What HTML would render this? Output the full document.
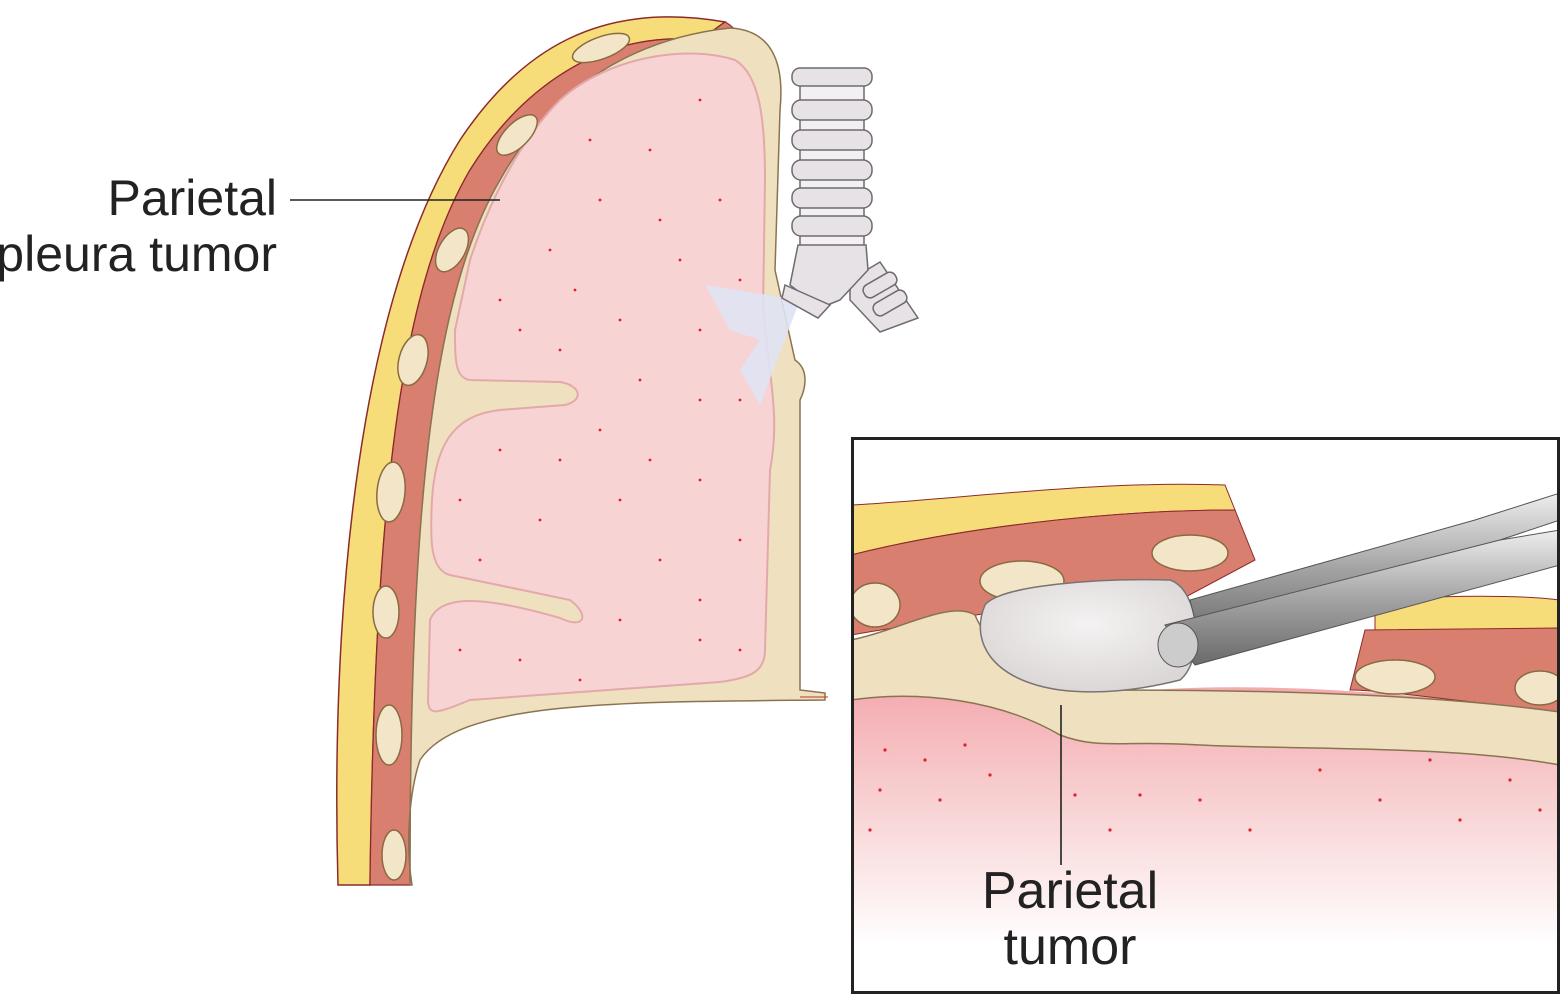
<!DOCTYPE html>
<html><head><meta charset="utf-8"><style>
html,body{margin:0;padding:0;background:#fff;width:1563px;height:997px;overflow:hidden}
svg{display:block}
text{font-family:"Liberation Sans",sans-serif;fill:#222}
</style></head><body>
<svg width="1563" height="997" viewBox="0 0 1563 997" xmlns="http://www.w3.org/2000/svg">
<defs>
<linearGradient id="lg" x1="0" y1="0" x2="0" y2="1">
<stop offset="0" stop-color="#f3a7ad"/><stop offset="0.4" stop-color="#f8d2d3"/><stop offset="0.85" stop-color="#fff"/></linearGradient>
<linearGradient id="rod" x1="0" y1="0" x2="0" y2="1"><stop offset="0" stop-color="#eee"/><stop offset="0.5" stop-color="#a5a5a5"/><stop offset="1" stop-color="#6a6a6a"/></linearGradient>
<radialGradient id="tum" cx="0.5" cy="0.4" r="0.6"><stop offset="0" stop-color="#f4f2f2"/><stop offset="1" stop-color="#dcd7d7"/></radialGradient>
</defs>
<path d="M338,885 C330,600 360,300 460,140 C520,50 600,0 725,22 L700,40 C600,30 520,90 470,170 C400,290 375,500 370,885 Z" fill="#f6dd7a" stroke="#8c2a2a" stroke-width="1.5"/>
<path d="M370,885 C375,500 400,290 470,170 C520,90 600,30 700,40 L725,22 C740,30 740,40 730,48 C620,40 545,100 500,180 C430,300 410,520 410,885 Z" fill="#d97f6f" stroke="#8c2a2a" stroke-width="1.2"/>
<path d="M410,885 C410,520 430,300 500,180 C545,100 620,40 730,28 C770,30 785,60 780,110 L775,270 L795,360 C810,370 805,390 800,400 L800,690 L825,693 L825,700 C620,702 460,700 420,760 C410,790 405,840 412,885 Z" fill="#efe0c0" stroke="#8a7450" stroke-width="1.5"/>
<path d="M470,260 C490,200 520,140 560,100 C610,55 690,45 735,60 C760,75 765,120 765,180 L763,310 C770,380 780,420 770,470 L765,650 C765,672 750,678 720,682 L470,700 C440,712 428,718 428,700 L430,620 C440,595 480,595 560,618 C585,630 590,615 570,600 L450,575 C430,570 430,540 432,500 C435,450 450,415 500,410 L565,405 C585,400 580,385 560,382 L470,380 C455,378 455,360 455,330 Z" fill="#f8d3d4" stroke="#e3a9aa" stroke-width="2"/>
<g fill="#e0202a">
<circle cx="500" cy="300" r="1.4"/><circle cx="550" cy="250" r="1.4"/><circle cx="600" cy="200" r="1.4"/><circle cx="650" cy="150" r="1.4"/><circle cx="700" cy="100" r="1.4"/><circle cx="720" cy="200" r="1.4"/><circle cx="680" cy="260" r="1.4"/><circle cx="620" cy="320" r="1.4"/><circle cx="560" cy="350" r="1.4"/><circle cx="520" cy="330" r="1.4"/><circle cx="700" cy="330" r="1.4"/><circle cx="740" cy="280" r="1.4"/><circle cx="640" cy="380" r="1.4"/><circle cx="700" cy="400" r="1.4"/><circle cx="600" cy="430" r="1.4"/><circle cx="500" cy="450" r="1.4"/><circle cx="460" cy="500" r="1.4"/><circle cx="540" cy="520" r="1.4"/><circle cx="620" cy="500" r="1.4"/><circle cx="700" cy="480" r="1.4"/><circle cx="740" cy="540" r="1.4"/><circle cx="660" cy="560" r="1.4"/><circle cx="620" cy="620" r="1.4"/><circle cx="700" cy="640" r="1.4"/><circle cx="520" cy="660" r="1.4"/><circle cx="460" cy="650" r="1.4"/><circle cx="580" cy="680" r="1.4"/><circle cx="740" cy="650" r="1.4"/><circle cx="590" cy="140" r="1.4"/><circle cx="660" cy="220" r="1.4"/><circle cx="575" cy="290" r="1.4"/><circle cx="740" cy="400" r="1.4"/><circle cx="480" cy="560" r="1.4"/><circle cx="560" cy="460" r="1.4"/><circle cx="650" cy="460" r="1.4"/><circle cx="700" cy="600" r="1.4"/>
</g>
<g fill="#f3e6c8" stroke="#8a6a40" stroke-width="1.5">
<ellipse cx="601" cy="48" rx="30" ry="11" transform="rotate(-20 601 48)"/>
<ellipse cx="517" cy="135" rx="26" ry="12" transform="rotate(-45 517 135)"/>
<ellipse cx="452" cy="250" rx="24" ry="13" transform="rotate(-60 452 250)"/>
<ellipse cx="413" cy="360" rx="26" ry="14" transform="rotate(-75 413 360)"/>
<ellipse cx="391" cy="492" rx="30" ry="14" transform="rotate(-85 391 492)"/>
<ellipse cx="386" cy="612" rx="26" ry="13" transform="rotate(-90 386 612)"/>
<ellipse cx="389" cy="735" rx="30" ry="13" transform="rotate(-90 389 735)"/>
<ellipse cx="394" cy="855" rx="25" ry="12" transform="rotate(-90 394 855)"/>
</g>
<path d="M705,285 L800,300 L760,405 L740,370 L760,340 L730,330 Z" fill="#dfe3f3" opacity="0.9"/>
<g fill="#e6e2e6" stroke="#6f6a70" stroke-width="1.5">
<rect x="800" y="75" width="64" height="180" fill="#f2f0f2"/>
<path d="M850,280 L880,262 L918,318 L880,332 L850,300 Z"/>
<path d="M798,245 L866,245 L868,270 L840,300 L820,308 L790,285 Z"/>
<rect x="792" y="68" width="80" height="18" rx="8"/>
<rect x="792" y="100" width="80" height="20" rx="9"/>
<rect x="792" y="130" width="80" height="20" rx="9"/>
<rect x="792" y="160" width="80" height="20" rx="9"/>
<rect x="792" y="188" width="80" height="20" rx="9"/>
<rect x="792" y="216" width="80" height="20" rx="9"/>
<rect x="862" y="278" width="36" height="14" rx="6" transform="rotate(-30 880 285)"/>
<rect x="872" y="296" width="36" height="14" rx="6" transform="rotate(-30 890 303)"/>
<path d="M785,285 L830,305 L818,318 L782,298 Z"/>
</g>
<path d="M828,697 L800,697" stroke="#c0392b" stroke-width="1"/>
<line x1="290" y1="200" x2="500" y2="200" stroke="#222" stroke-width="1.6"/>
<text x="277" y="215" font-size="50" text-anchor="end">Parietal</text>
<text x="277" y="271" font-size="50" text-anchor="end">pleura tumor</text>
<svg x="851" y="437" width="709" height="557" viewBox="851 437 709 557">
<rect x="851" y="437" width="709" height="557" fill="#fff"/>
<path d="M851,690 C950,660 1050,700 1150,690 C1300,680 1450,700 1560,710 L1560,994 L851,994 Z" fill="url(#lg)"/>
<path d="M851,505 C950,500 1100,480 1225,485 L1235,510 C1100,510 950,530 851,555 Z" fill="#f6dd7a" stroke="#8c2a2a"/>
<path d="M851,555 C950,530 1100,510 1235,510 L1255,560 L1180,600 C1100,595 1000,610 851,635 Z" fill="#d97f6f" stroke="#8c2a2a"/>
<path d="M1375,600 C1450,595 1520,595 1560,600 L1560,630 L1375,630 Z" fill="#f6dd7a" stroke="#8c2a2a"/>
<path d="M1365,630 L1560,628 L1560,715 L1500,705 C1450,700 1380,690 1350,690 Z" fill="#d97f6f" stroke="#8c2a2a"/>
<path d="M851,640 C900,630 950,600 975,615 C990,650 1030,690 1080,690 C1200,690 1400,690 1560,712 L1560,765 C1450,745 1300,750 1200,745 C1120,740 1100,750 1060,735 C1000,700 920,690 851,700 Z" fill="#efe0c0" stroke="#8a7450" stroke-width="1.5"/>
<g fill="#f3e6c8" stroke="#8a6a40" stroke-width="1.5">
<ellipse cx="1022" cy="581" rx="42" ry="20"/>
<ellipse cx="1190" cy="553" rx="38" ry="18"/>
<ellipse cx="1395" cy="677" rx="40" ry="17"/>
<ellipse cx="1540" cy="688" rx="25" ry="17"/>
<ellipse cx="875" cy="605" rx="25" ry="22"/>
</g>
<path d="M985,605 C1000,585 1100,578 1170,580 C1200,590 1205,660 1180,680 C1140,690 1100,695 1060,690 C990,680 970,640 985,605 Z" fill="url(#tum)" stroke="#7a7373" stroke-width="1.5"/>
<path d="M1190,600 L1475,520 L1560,493 L1560,520 L1200,640 Z" fill="url(#rod)" stroke="#555"/>
<path d="M1165,625 L1500,540 L1560,530 L1560,565 L1195,665 Z" fill="url(#rod)" stroke="#555"/>
<ellipse cx="1178" cy="645" rx="20" ry="22" fill="#ccc" stroke="#555"/>
<g fill="#e0202a">
<circle cx="885" cy="750" r="1.6"/><circle cx="925" cy="760" r="1.6"/><circle cx="965" cy="745" r="1.6"/><circle cx="990" cy="775" r="1.6"/><circle cx="880" cy="790" r="1.6"/><circle cx="940" cy="800" r="1.6"/><circle cx="1075" cy="795" r="1.6"/><circle cx="1140" cy="795" r="1.6"/><circle cx="1200" cy="800" r="1.6"/><circle cx="1320" cy="770" r="1.6"/><circle cx="1430" cy="760" r="1.6"/><circle cx="1510" cy="780" r="1.6"/><circle cx="1380" cy="800" r="1.6"/><circle cx="1250" cy="830" r="1.6"/><circle cx="1460" cy="820" r="1.6"/><circle cx="1540" cy="810" r="1.6"/><circle cx="870" cy="830" r="1.6"/><circle cx="1110" cy="830" r="1.6"/>
</g>
<line x1="1061" y1="705" x2="1061" y2="865" stroke="#222" stroke-width="1.6"/>
<text x="1070" y="908" font-size="52" text-anchor="middle">Parietal</text>
<text x="1070" y="964" font-size="52" text-anchor="middle">tumor</text>
</svg>
<rect x="852.5" y="438.5" width="706" height="554" fill="none" stroke="#222" stroke-width="3"/>
</svg>
</body></html>
